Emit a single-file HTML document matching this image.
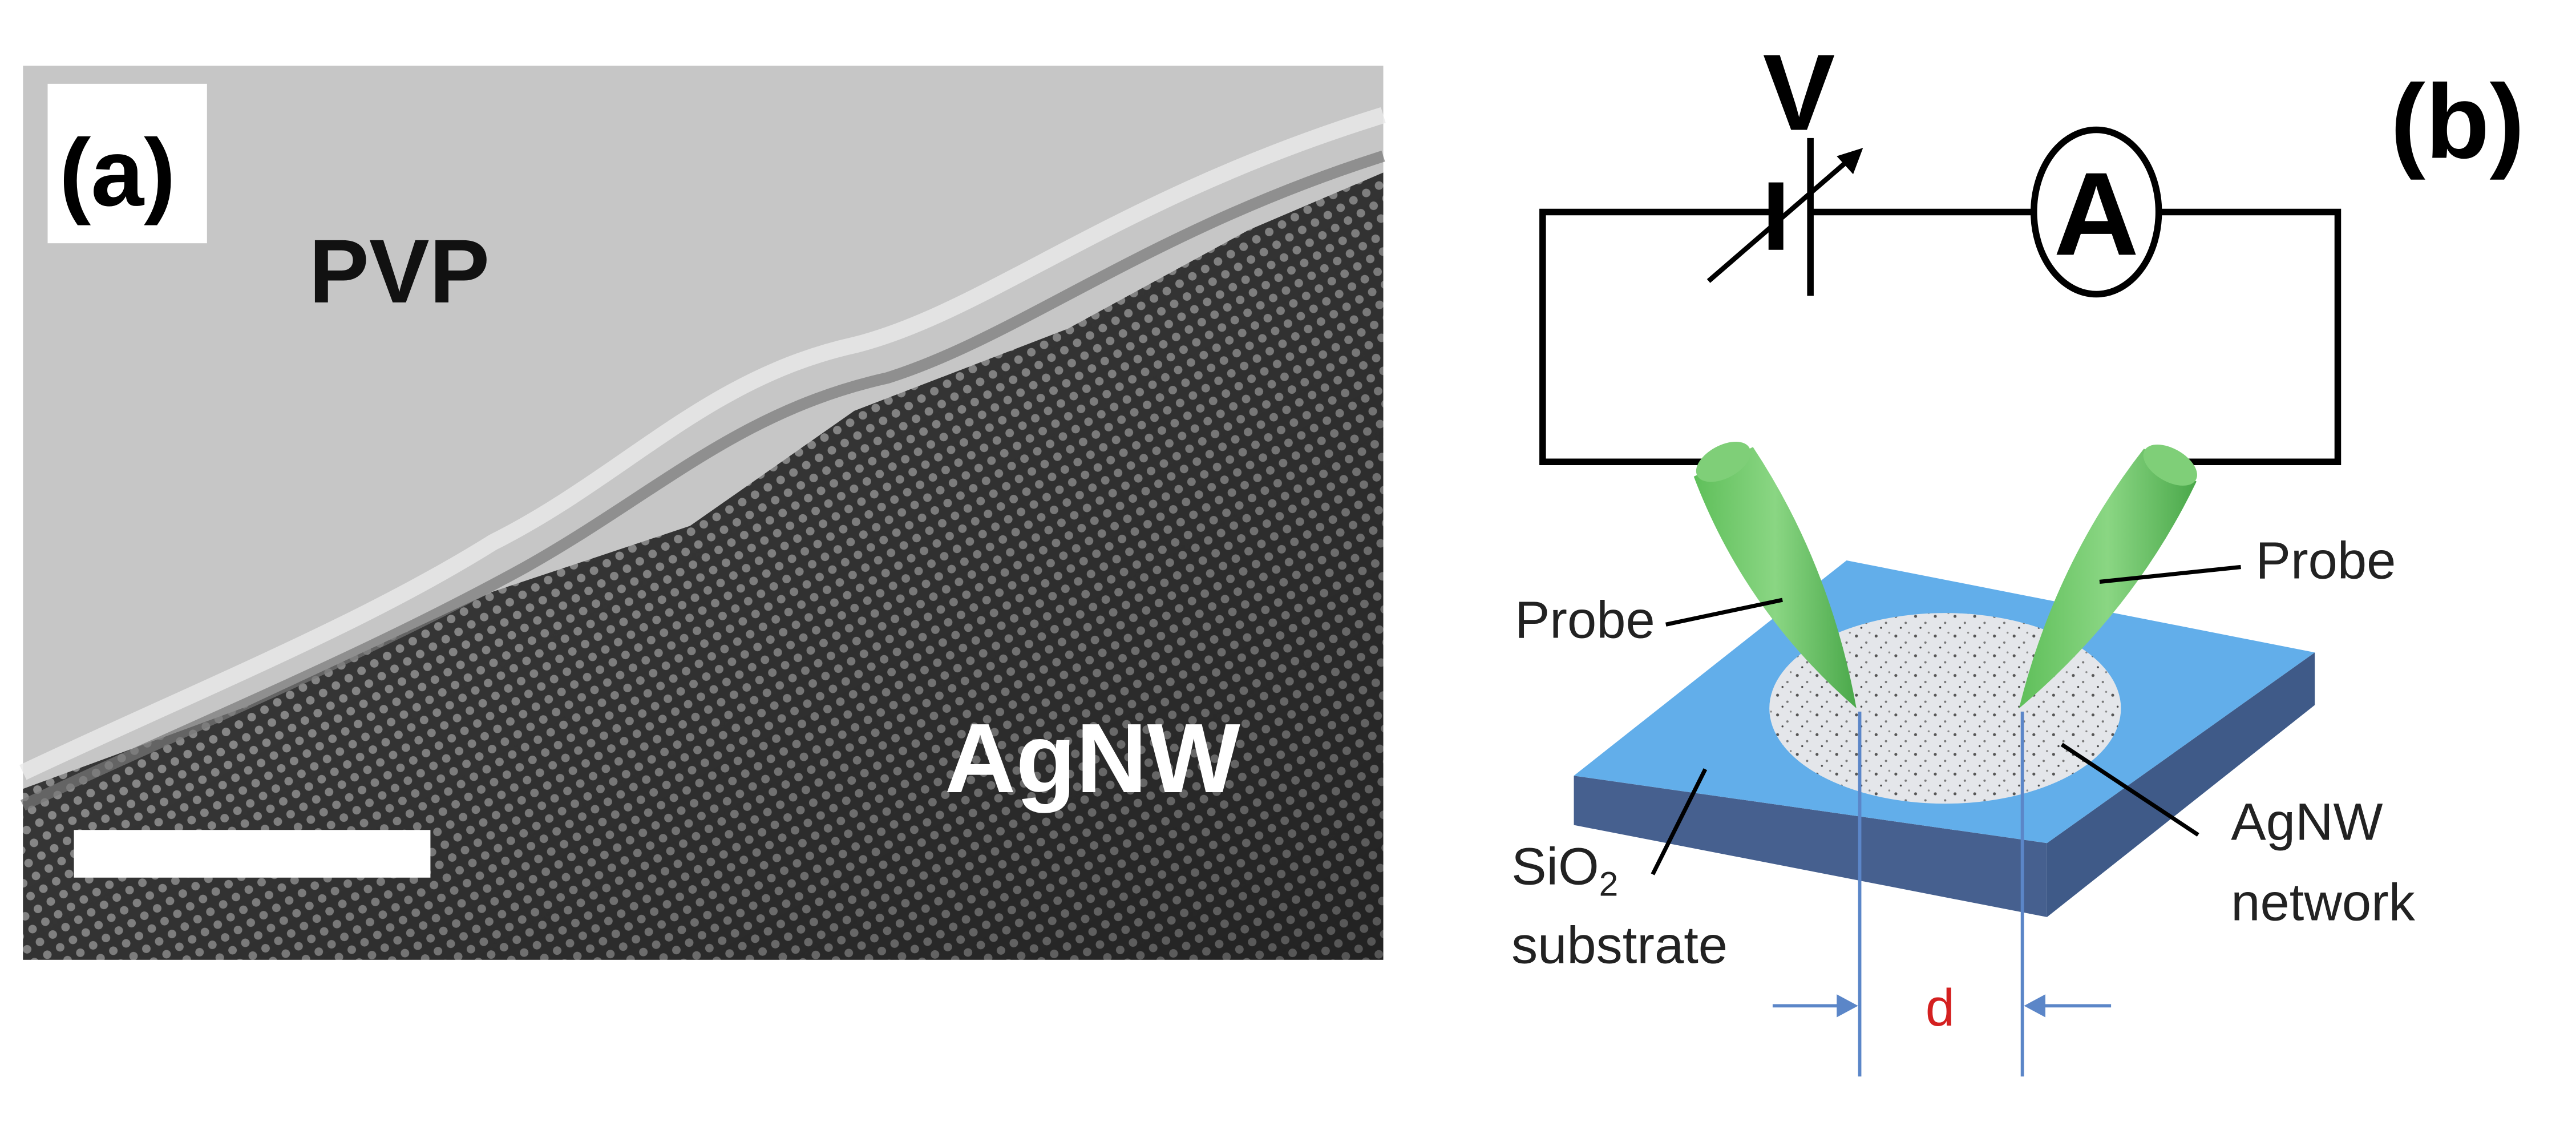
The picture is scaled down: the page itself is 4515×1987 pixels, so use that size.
<!DOCTYPE html>
<html><head><style>html,body{margin:0;padding:0;background:#fff}svg{display:block}</style></head>
<body>
<svg width="4515" height="1987" viewBox="0 0 1568 690" preserveAspectRatio="none" xmlns="http://www.w3.org/2000/svg" font-family="Liberation Sans, sans-serif">
<defs>
<pattern id="lat" width="9" height="9" patternUnits="userSpaceOnUse" patternTransform="rotate(-30)">
<rect width="9" height="9" fill="#444"/>
<circle cx="4.5" cy="4.5" r="2.6" fill="#aaa"/>
</pattern>
<pattern id="spk" width="12" height="12" patternUnits="userSpaceOnUse">
<rect width="12" height="12" fill="#e4e6ea"/>
<circle cx="2" cy="3" r="0.9" fill="#555"/><circle cx="8" cy="7" r="0.7" fill="#777"/>
<circle cx="5" cy="10" r="0.6" fill="#444"/><circle cx="10" cy="1" r="0.6" fill="#888"/>
</pattern>
<linearGradient id="grn" x1="0" y1="0" x2="1" y2="0">
<stop offset="0" stop-color="#5fbf5a"/><stop offset="0.5" stop-color="#8ad683"/><stop offset="1" stop-color="#4aa84a"/>
</linearGradient>
<linearGradient id="dk" x1="0" y1="0" x2="1" y2="1">
<stop offset="0" stop-color="#000" stop-opacity="0"/><stop offset="1" stop-color="#000" stop-opacity="0.5"/>
</linearGradient>
</defs>

<!-- panel a -->
<rect x="14" y="40" width="828" height="544" fill="#c6c6c6"/>
<polygon points="14,480 150,430 300,360 420,320 520,250 650,200 760,140 842,105 842,584 14,584" fill="url(#lat)"/>
<polygon points="14,480 150,430 300,360 420,320 520,250 650,200 760,140 842,105 842,584 14,584" fill="url(#dk)"/>
<path d="M14,470 C120,420 220,380 300,330 C380,290 430,230 520,210 C600,190 680,120 842,70" fill="none" stroke="#eaeaea" stroke-width="10" opacity="0.8"/>
<path d="M14,490 C120,440 220,400 320,345 C400,300 450,250 540,230 C620,205 700,140 842,95" fill="none" stroke="#777" stroke-width="7" opacity="0.7"/>
<rect x="29" y="51" width="97" height="97" fill="#fff"/>
<text x="36" y="125" font-size="58" font-weight="bold" font-family="Liberation Sans Narrow, Liberation Sans, sans-serif">(a)</text>
<text x="188" y="184" font-size="55" font-weight="bold" fill="#111">PVP</text>
<text x="575" y="482" font-size="60" font-weight="bold" fill="#fff">AgNW</text>
<rect x="45" y="505" width="217" height="29" fill="#fff"/>

<!-- panel b -->
<text x="1455" y="96" font-size="64" font-weight="bold">(b)</text>
<text x="1073" y="79" font-size="66" font-weight="bold">V</text>
<g stroke="#000" stroke-width="4" fill="none">
<polyline points="1049,281 939,281 939,129 1081,129"/>
<line x1="1102" y1="129" x2="1238" y2="129"/>
<polyline points="1314,129 1423,129 1423,281 1321,281"/>
<line x1="1102" y1="84" x2="1102" y2="180"/>
<line x1="1081" y1="111" x2="1081" y2="152" stroke-width="9"/>
<line x1="1040" y1="171" x2="1128" y2="95" stroke-width="3"/>
<ellipse cx="1276" cy="129" rx="38" ry="50"/>
</g>
<polygon points="1134,90 1118,95 1128,106" fill="#000"/>
<text x="1276" y="155" font-size="72" font-weight="bold" text-anchor="middle">A</text>

<!-- substrate -->
<polygon points="958,472 1246,513 1246,558 958,502" fill="#46608f"/>
<polygon points="1246,513 1409,397 1409,429 1246,558" fill="#3f5a88"/>
<polygon points="1124,341 1409,397 1246,513 958,472" fill="#62aeea"/>
<ellipse cx="1184" cy="431" rx="107" ry="58" fill="url(#spk)"/>

<!-- probes -->
<path d="M1031,290 Q1062,372 1130,431 Q1114,343 1067,272 Z" fill="url(#grn)"/>
<ellipse cx="1049" cy="281" rx="18" ry="10" transform="rotate(-28 1049 281)" fill="#7fcf78"/>
<path d="M1305,273 Q1251,342 1229,431 Q1299,372 1337,293 Z" fill="url(#grn)"/>
<ellipse cx="1321" cy="283" rx="18" ry="10" transform="rotate(30 1321 283)" fill="#7fcf78"/>

<!-- leader lines -->
<g stroke="#000" stroke-width="2.5">
<line x1="1014" y1="380" x2="1085" y2="365"/>
<line x1="1364" y1="345" x2="1278" y2="354"/>
<line x1="1006" y1="532" x2="1038" y2="468"/>
<line x1="1338" y1="508" x2="1255" y2="453"/>
</g>
<g font-size="32" fill="#222" font-family="Liberation Sans Narrow, Liberation Sans, sans-serif">
<text x="922" y="388">Probe</text>
<text x="1373" y="352">Probe</text>
<text x="920" y="538">SiO<tspan font-size="21" dy="7">2</tspan></text>
<text x="920" y="586">substrate</text>
<text x="1358" y="511">AgNW</text>
<text x="1358" y="560">network</text>
</g>
<g stroke="#5b86c8" stroke-width="2">
<line x1="1132" y1="433" x2="1132" y2="655"/>
<line x1="1231" y1="433" x2="1231" y2="655"/>
<line x1="1079" y1="612" x2="1128" y2="612"/>
<line x1="1236" y1="612" x2="1285" y2="612"/>
</g>
<polygon points="1131,612 1118,605 1118,619" fill="#5b86c8"/>
<polygon points="1232,612 1245,605 1245,619" fill="#5b86c8"/>
<text x="1172" y="624" font-size="32" fill="#d42020">d</text>
</svg>
</body></html>
